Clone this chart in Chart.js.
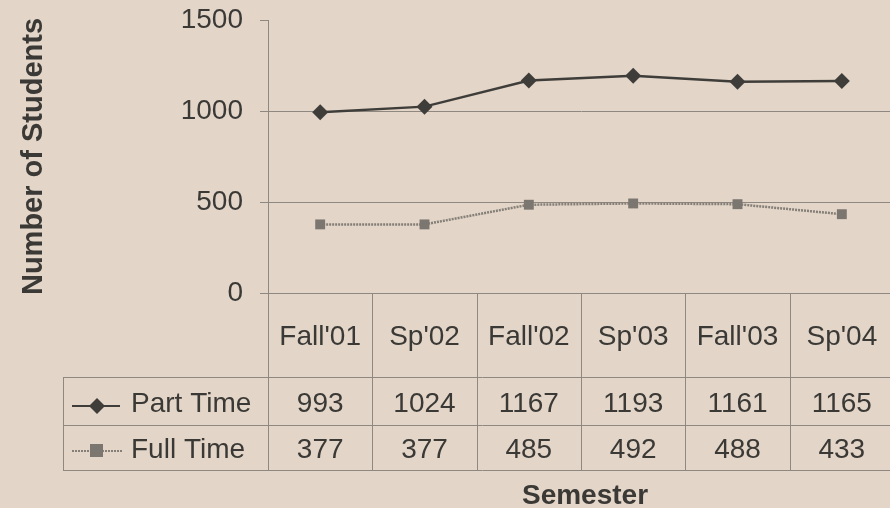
<!DOCTYPE html>
<html>
<head>
<meta charset="utf-8">
<script src="https://cdn.jsdelivr.net/npm/chart.js@4.4.0/dist/chart.umd.min.js"></script>
<style>
  html, body { margin: 0; padding: 0; overflow: hidden; background: #e3d6c8; }
  #wrap { position: relative; width: 902px; height: 508px; }
</style>
</head>
<body>
<div id="wrap"><canvas id="chart" width="902" height="508"></canvas></div>
<script>
const semesters = ["Fall'01", "Sp'02", "Fall'02", "Sp'03", "Fall'03", "Sp'04"];
const partTime = [993, 1024, 1167, 1193, 1161, 1165];
const fullTime = [377, 377, 485, 492, 488, 433];
const yTicks = [0, 500, 1000, 1500];

const TEXT = "#3b3936";
const LINE = "#8f8880";
const FONT = "'Liberation Sans', Arial, sans-serif";

// draws the data table under the plot, using the x scale columns
const dataTable = {
  id: "dataTable",
  afterDraw(chart) {
    const ctx = chart.ctx;
    const x = chart.scales.x;
    const area = chart.chartArea;
    const step = x.getPixelForValue(1) - x.getPixelForValue(0);
    const top = area.bottom;
    const row1 = 377, row2 = 425, row3 = 470;
    const tableLeft = 63;
    ctx.save();
    ctx.strokeStyle = LINE;
    ctx.lineWidth = 1;
    // vertical column lines
    for (let i = 0; i <= semesters.length; i++) {
      const px = Math.round(x.getPixelForValue(i) - step / 2) + 0.5;
      ctx.beginPath();
      ctx.moveTo(px, top);
      ctx.lineTo(px, row3);
      ctx.stroke();
    }
    // left border of label column
    ctx.beginPath();
    ctx.moveTo(tableLeft + 0.5, row1);
    ctx.lineTo(tableLeft + 0.5, row3);
    ctx.stroke();
    [row1, row2, row3].forEach(r => {
      ctx.beginPath();
      ctx.moveTo(tableLeft, r + 0.5);
      ctx.lineTo(chart.width, r + 0.5);
      ctx.stroke();
    });

    ctx.fillStyle = TEXT;
    ctx.font = "28px " + FONT;
    ctx.textAlign = "center";
    ctx.textBaseline = "middle";
    semesters.forEach((s, i) => {
      const cx = x.getPixelForValue(i);
      ctx.fillText(s, cx, 337);
      ctx.fillText(String(partTime[i]), cx, 404);
      ctx.fillText(String(fullTime[i]), cx, 450);
    });

    // legend keys
    ctx.textAlign = "left";
    ctx.fillText("Part Time", 131, 404);
    ctx.fillText("Full Time", 131, 450);

    ctx.strokeStyle = "#3f3d3a";
    ctx.lineWidth = 2;
    ctx.beginPath();
    ctx.moveTo(72, 406);
    ctx.lineTo(120, 406);
    ctx.stroke();
    ctx.fillStyle = "#3f3d3a";
    ctx.beginPath();
    ctx.moveTo(97, 398);
    ctx.lineTo(105, 406);
    ctx.lineTo(97, 414);
    ctx.lineTo(89, 406);
    ctx.closePath();
    ctx.fill();

    ctx.strokeStyle = "#857f78";
    ctx.setLineDash([2, 1]);
    ctx.beginPath();
    ctx.moveTo(72, 451);
    ctx.lineTo(123, 451);
    ctx.stroke();
    ctx.setLineDash([]);
    ctx.fillStyle = "#7c7670";
    ctx.fillRect(90, 444, 13, 13);

    // axis title
    ctx.fillStyle = TEXT;
    ctx.font = "bold 28px " + FONT;
    ctx.textAlign = "center";
    ctx.fillText("Semester", 585, 496);
    ctx.restore();
  }
};

new Chart(document.getElementById("chart"), {
  type: "line",
  data: {
    labels: semesters,
    datasets: [
      {
        label: "Part Time",
        data: partTime,
        borderColor: "#3f3d3a",
        backgroundColor: "#3f3d3a",
        borderWidth: 2.5,
        pointStyle: "rectRot",
        pointRadius: 8,
        pointBorderWidth: 0,
        tension: 0
      },
      {
        label: "Full Time",
        data: fullTime,
        borderColor: "#857f78",
        backgroundColor: "#7c7670",
        borderWidth: 2.5,
        borderDash: [2, 1],
        pointStyle: "rect",
        pointRadius: 7,
        pointBorderWidth: 0,
        tension: 0
      }
    ]
  },
  options: {
    responsive: false,
    animation: false,
    devicePixelRatio: 1,
    layout: { padding: { top: 20, bottom: 215, left: 0, right: 0 } },
    plugins: { legend: { display: false }, tooltip: { enabled: false } },
    scales: {
      x: {
        type: "category",
        display: false,
        offset: true
      },
      y: {
        min: 0,
        max: 1500,
        afterBuildTicks: s => { s.ticks = yTicks.map(v => ({ value: v })); },
        afterFit: s => {
          s.width = 268;
          s.paddingTop = 0;
          s.paddingBottom = 0;
        },
        border: { display: true, color: LINE, width: 1 },
        grid: {
          color: c => (c.tick && c.tick.value === 1500 ? "rgba(0,0,0,0)" : LINE),
          tickColor: LINE,
          tickLength: 8,
          lineWidth: 1
        },
        ticks: {
          color: TEXT,
          font: { family: FONT, size: 28 },
          padding: 17,
          callback: v => String(v)
        },
        title: {
          display: true,
          text: "Number of Students",
          color: TEXT,
          font: { family: FONT, size: 29, weight: "bold" },
          padding: { top: 17, bottom: 0 }
        }
      }
    }
  },
  plugins: [dataTable]
});
</script>
</body>
</html>
